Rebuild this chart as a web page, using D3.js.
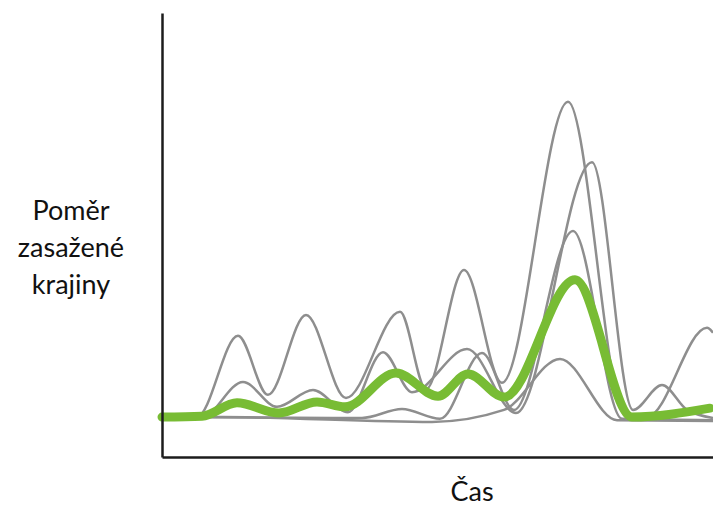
<!DOCTYPE html>
<html>
<head>
<meta charset="utf-8">
<script src="https://cdn.jsdelivr.net/npm/d3@7"></script>
<style>
  body { margin: 0; background: #fff; }
  text { font-family: Lato, "Open Sans", sans-serif; fill: #111; }
</style>
</head>
<body>
<div id="chart"></div>
<script>
// time steps (x) and proportion of affected landscape (y, %) at the turning points of each run
const runA = [[0, 9.0], [35, 9.0], [76, 27.3], [106, 14.0], [144, 32.0], [184, 13.3], [238, 32.7], [264, 15.3],
  [302, 42.1], [340, 16.7], [406, 80.0], [463, 9.5], [485, 9.0], [545, 29.1], [551, 28.0]];
const runB = [[0, 9.0], [40, 9.0], [81, 16.9], [115, 11.3], [151, 15.1], [186, 10.1], [221, 23.6], [250, 14.6],
  [305, 24.3], [354, 9.9], [430, 66.4], [471, 10.6], [500, 16.2], [525, 10.6], [551, 8.8]];
const runC = [[0, 9.0], [200, 8.8], [240, 10.8], [278, 8.6], [320, 23.4], [352, 10.6], [411, 50.9], [460, 8.6], [551, 8.3]];
const runD = [[0, 9.0], [60, 9.0], [270, 7.9], [342, 10.6], [398, 22.1], [455, 8.3], [551, 8.1]];
const mean = [[0, 9.0], [40, 9.2], [75, 12.2], [117, 9.9], [155, 12.4], [183, 11.3], [234, 18.9], [276, 13.7],
  [306, 18.7], [342, 13.5], [413, 39.9], [470, 9.0], [548, 11.0]];

const runs = [runA, runB, runC, runD];
const yLabel = ['Poměr', 'zasažené', 'krajiny'];
const xLabel = 'Čas';

const width = 713, height = 508;

const svg = d3.select('#chart').append('svg')
  .attr('width', width)
  .attr('height', height);

const x = d3.scaleLinear().domain([0, 551]).range([162, 713]);
const y = d3.scaleLinear().domain([0, 100]).range([457, 13]);

const line = d3.line()
  .curve(d3.curveMonotoneX)
  .x((d) => { return x(d[0]); })
  .y((d) => { return y(d[1]); });

svg.selectAll('.run').data(runs)
  .enter()
    .append('path')
    .attr('class', 'run')
    .attr('fill', 'none')
    .attr('stroke', '#8e8e8e')
    .attr('stroke-width', 2.5)
    .attr('d', (d) => { return line(d); });

svg.append('path')
  .datum(mean)
  .attr('fill', 'none')
  .attr('stroke', '#78bc34')
  .attr('stroke-width', 9)
  .attr('stroke-linecap', 'round')
  .attr('d', line);

// axes without ticks
const xAxis = d3.axisBottom(x).ticks(0).tickSize(0).tickFormat('');
const yAxis = d3.axisLeft(y).ticks(0).tickSize(0).tickFormat('');

svg.append('g')
  .attr('transform', 'translate(0,' + y(0) + ')')
  .call(xAxis)
  .select('.domain')
  .attr('stroke', '#1c1c1c')
  .attr('stroke-width', 2.5);

svg.append('g')
  .attr('transform', 'translate(' + x(0) + ',0)')
  .call(yAxis)
  .select('.domain')
  .attr('stroke', '#1c1c1c')
  .attr('stroke-width', 2.5);

svg.append('text')
  .attr('text-anchor', 'middle')
  .attr('font-size', 27)
  .selectAll('tspan').data(yLabel)
  .enter()
    .append('tspan')
    .attr('x', 71)
    .attr('y', (d, i) => { return 220 + i * 37; })
    .text((d) => { return d; });

svg.append('text')
  .attr('x', 472)
  .attr('y', 501)
  .attr('text-anchor', 'middle')
  .attr('font-size', 27)
  .text(xLabel);
</script>
</body>
</html>
